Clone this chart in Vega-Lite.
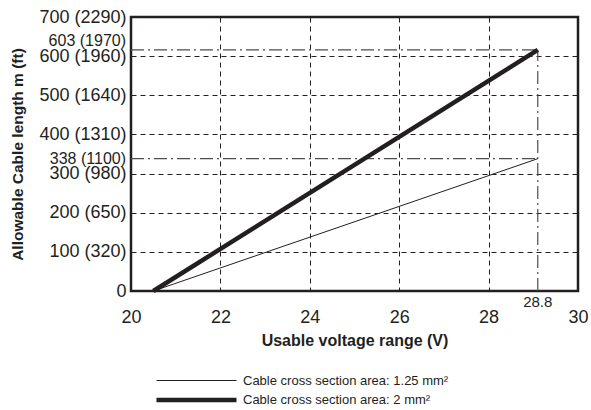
{
  "$schema": "https://vega.github.io/schema/vega-lite/v6.json",
  "width": 447,
  "height": 274,
  "autosize": "none",
  "padding": {"left": 131, "top": 17, "right": 13, "bottom": 119},
  "background": "white",
  "config": {
    "font": "Liberation Sans",
    "view": {"stroke": "#231f20", "strokeWidth": 2.5},
    "axis": {"labelColor": "#231f20", "titleColor": "#231f20", "domain": false, "ticks": false, "gridColor": "#231f20", "gridDash": [5, 4], "gridWidth": 1, "gridOpacity": 1, "labelOverlap": false, "labelFlush": false}
  },
  "datasets": {
    "series": [
      {"x": 20.5, "y": 0, "cable": "Cable cross section area: 1.25 mm²"},
      {"x": 29.1, "y": 338, "cable": "Cable cross section area: 1.25 mm²"},
      {"x": 20.5, "y": 0, "cable": "Cable cross section area: 2 mm²"},
      {"x": 29.1, "y": 616, "cable": "Cable cross section area: 2 mm²"}
    ],
    "refs": [
      {"x": 20, "x2": 29.1, "y": 616, "y2": 616},
      {"x": 20, "x2": 29.1, "y": 338, "y2": 338},
      {"x": 29.1, "x2": 29.1, "y": 0, "y2": 616}
    ],
    "labels": [
      {"x": 20, "y": 616, "text": "603 (1970)", "pos": "top"},
      {"x": 20, "y": 338, "text": "338 (1100)", "pos": "mid"},
      {"x": 29.1, "y": 0, "text": "28.8", "pos": "bottom"}
    ]
  },
  "encoding": {
    "x": {"field": "x", "type": "quantitative", "scale": {"domain": [20, 30]},
      "axis": {"values": [20, 22, 24, 26, 28, 30], "title": "Usable voltage range (V)", "labelFontSize": 18, "labelPadding": 17, "labelOverlap": false, "labelFlush": false, "titleFontSize": 16, "titleFontWeight": "bold", "titlePadding": 6, "grid": true}},
    "y": {"field": "y", "type": "quantitative", "scale": {"domain": [0, 700]},
      "axis": {"values": [0, 100, 200, 300, 400, 500, 600, 700], "title": "Allowable Cable length m (ft)", "labelFontSize": 18, "labelPadding": 5, "labelOverlap": false, "labelFlush": false, "titleFontSize": 15.5, "titleFontWeight": "bold", "titlePadding": 13, "grid": true,
        "labelExpr": "datum.value == 0 ? '0' : datum.value == 100 ? '100 (320)' : datum.value == 200 ? '200 (650)' : datum.value == 300 ? '300 (980)' : datum.value == 400 ? '400 (1310)' : datum.value == 500 ? '500 (1640)' : datum.value == 600 ? '600 (1960)' : '700 (2290)'"}}
  },
  "layer": [
    {
      "data": {"name": "refs"},
      "mark": {"type": "rule", "color": "#4d4d4d", "strokeWidth": 1.2, "strokeDash": [13, 4, 2, 4]},
      "encoding": {
        "x2": {"field": "x2"},
        "y2": {"field": "y2"}
      }
    },
    {
      "data": {"name": "series"},
      "mark": {"type": "line", "color": "#231f20"},
      "encoding": {
        "detail": {"field": "cable"},
        "strokeWidth": {"field": "cable", "type": "nominal",
          "scale": {"domain": ["Cable cross section area: 1.25 mm²", "Cable cross section area: 2 mm²"], "range": [1, 4.5]},
          "legend": {"title": null, "orient": "none", "legendX": 59, "legendY": 357, "padding": 0, "symbolType": "M-10,0H10", "symbolSize": 64, "symbolStrokeColor": "#231f20", "labelFontSize": 13, "labelColor": "#231f20", "labelOffset": 40, "labelLimit": 0, "rowPadding": 2.5}}
      }
    },
    {
      "data": {"name": "labels"},
      "transform": [{"filter": "datum.pos == 'top'"}],
      "mark": {"type": "text", "align": "right", "baseline": "bottom", "dx": -5, "dy": -1, "fontSize": 16, "color": "#231f20"},
      "encoding": {"text": {"field": "text"}}
    },
    {
      "data": {"name": "labels"},
      "transform": [{"filter": "datum.pos == 'mid'"}],
      "mark": {"type": "text", "align": "right", "baseline": "middle", "dx": -5, "fontSize": 16, "color": "#231f20"},
      "encoding": {"text": {"field": "text"}}
    },
    {
      "data": {"name": "labels"},
      "transform": [{"filter": "datum.pos == 'bottom'"}],
      "mark": {"type": "text", "align": "center", "baseline": "middle", "dy": 11, "fontSize": 15, "color": "#231f20"},
      "encoding": {"text": {"field": "text"}}
    }
  ]
}
